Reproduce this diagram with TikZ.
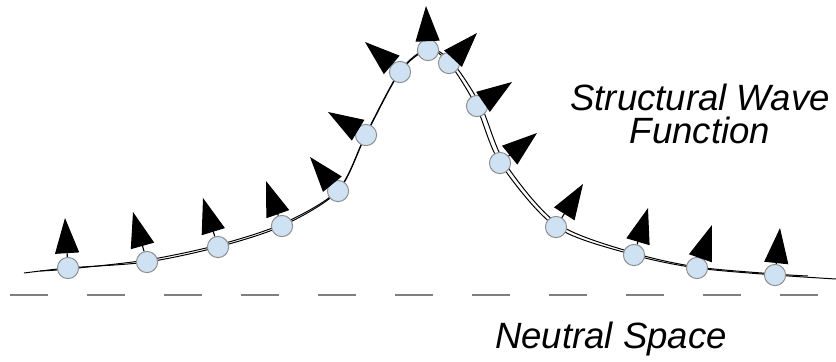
\documentclass[tikz,border=0pt]{standalone}
\usepackage{fontspec}
\setmainfont{Liberation Sans}
\usetikzlibrary{arrows.meta}
\definecolor{beadblue}{HTML}{CFE2F3}
\definecolor{rimgray}{HTML}{8E8E8E}
\definecolor{dashgray}{HTML}{7F7F7F}
\tikzstyle{bead} = [circle, minimum size=0.53cm, inner sep=0pt,
fill=beadblue, draw=rimgray, line width=0.7pt]
\tikzstyle{spin} = [-{Triangle[length=0.88cm, width=0.6cm]}, line width=0.8pt, black]
\tikzstyle{wave} = [line width=0.7pt, black]
\tikzstyle{caption} = [font=\itshape\fontsize{26}{23}\selectfont, align=center, inner sep=0pt]

\begin{document}
\begin{tikzpicture}[x=0.025cm, y=-0.025cm]
				
				% canvas in pixels of the sketch
				\useasboundingbox (0,0) rectangle (836,362);
				
				% Neutral space
				\draw[dashgray, line width=0.9pt, dash pattern=on 0.95cm off 0.975cm] (10,295) -- (836,295);
				
				% Wave, traced twice
				\draw[wave] plot[smooth] coordinates {(24,273) (68,268) (147,262) (218,247) (282,226) (338,191) (366,135) (400,72) (428,50) (449,63) (476,106) (500,163) (556,227) (634,255) (697,268) (775,275) (836,279)};
				\draw[wave] plot[smooth] coordinates {(40,271) (68,269) (147,260) (218,245) (282,224) (338,190) (366,134) (400,71) (428,49) (452,62) (481,106) (505,163) (558,224) (634,253) (697,267) (775,274) (808,276)};
				
				% Beads
				\foreach \n/\x/\y in {1/68/268, 2/147/262, 3/218/247, 4/282/226, 5/338/191,
					6/366/135, 7/400/72, 8/428/50, 9/449/63, 10/477/106,
					11/500/163, 12/556/227, 13/634/255, 14/697/268, 15/775/275}
					\node[bead] (p\n) at (\x,\y) {};
				
				% Spins
				\foreach \n/\x/\y in {1/65/218, 2/133/212, 3/203/198, 4/266/181, 5/310/157,
					6/328/112, 7/365/42, 8/426/6, 9/477/33, 10/512/82,
					11/537/133, 12/583/184, 13/648/208, 14/712/225, 15/780/228}
				{
					\coordinate (t\n) at (\x,\y);
					\draw[spin] (p\n) -- (t\n);
				}
				
				% Labels
				\node[caption, anchor=base] (wavetext) at (700,143) {Structural Wave\\Function};
				\node[caption, anchor=base] (neutral) at (611,348) {Neutral Space};
				
\end{tikzpicture}
\end{document}
